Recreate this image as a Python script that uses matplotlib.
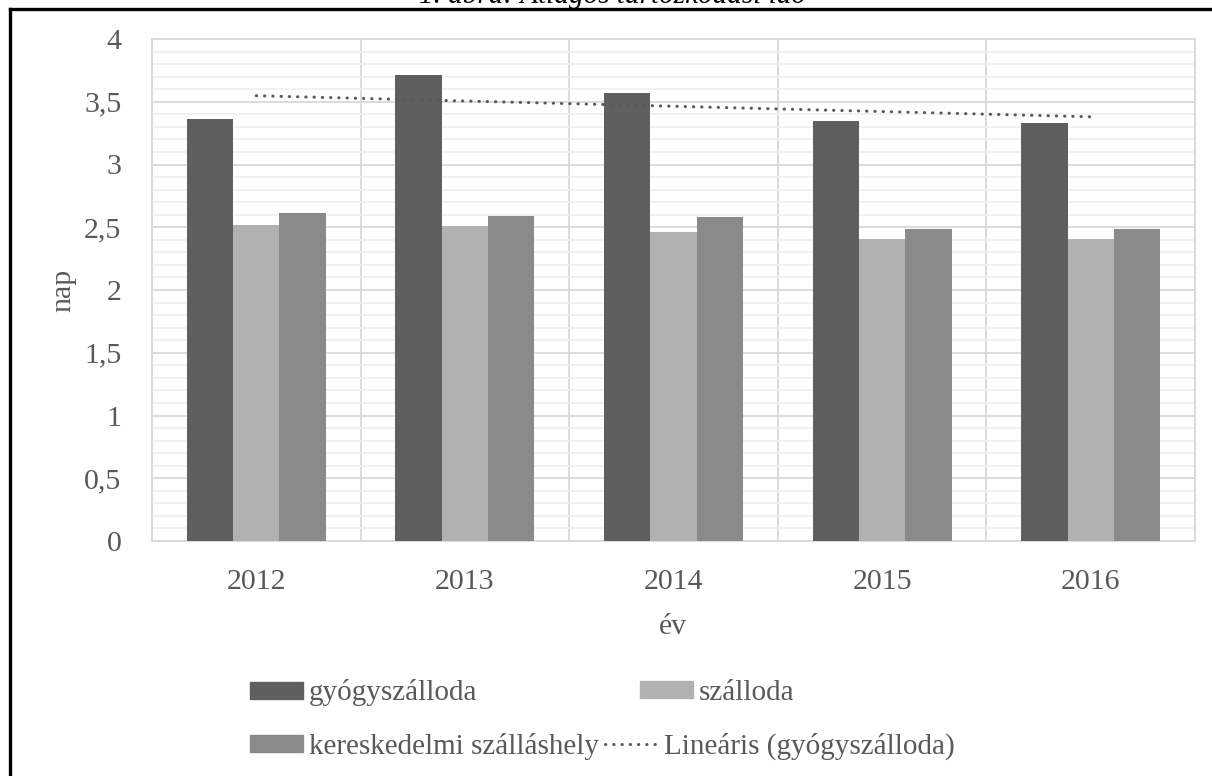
import numpy as np
import matplotlib
matplotlib.use("Agg")
import matplotlib.pyplot as plt
from matplotlib.patches import Patch
from matplotlib.lines import Line2D
from matplotlib.ticker import MultipleLocator, FuncFormatter

years = ["2012", "2013", "2014", "2015", "2016"]
gyogyszalloda = [3.36, 3.71, 3.57, 3.35, 3.33]
szalloda = [2.52, 2.51, 2.46, 2.41, 2.41]
kereskedelmi = [2.61, 2.59, 2.58, 2.49, 2.49]

series_names = ["gyógyszálloda", "szálloda", "kereskedelmi szálláshely"]
trend_name = "Lineáris (gyógyszálloda)"
title = "1. ábra: Átlagos tartózkodási idő"

plt.rcParams['font.family'] = ['Liberation Serif', 'DejaVu Serif']
txt = '#595959'
cols = ['#5f5f5f', '#b1b1b1', '#8a8a8a']

W, H = 1212, 776
fig = plt.figure(figsize=(W / 100, H / 100), dpi=100)
ax = fig.add_axes([152 / W, 1 - 541 / H, (1195 - 152) / W, (541 - 39) / H])

x = np.arange(len(years))
bw = 0.222
for i, (vals, c) in enumerate(zip([gyogyszalloda, szalloda, kereskedelmi], cols)):
    ax.bar(x + (i - 1) * bw, vals, width=bw, color=c, zorder=3, linewidth=0)

# excel style linear trendline
k, b = np.polyfit(x, gyogyszalloda, 1)
ax.plot(x, k * x + b, color='#595959', lw=2.2, linestyle=(0, (0.1, 2.6)),
        dash_capstyle='round', zorder=4)

ax.set_xlim(-0.5, len(years) - 0.5)
ax.set_ylim(0, 4)
ax.yaxis.set_major_locator(MultipleLocator(0.5))
ax.yaxis.set_minor_locator(MultipleLocator(0.1))
ax.yaxis.set_major_formatter(FuncFormatter(lambda v, p: f"{v:g}".replace('.', ',')))
ax.set_xticks(x)
ax.set_xticklabels(years)
ax.set_xticks(np.arange(-0.5, len(years), 1), minor=True)
ax.grid(which='minor', axis='y', color='#f0f0f0', lw=1.3, zorder=0)
ax.grid(which='major', axis='y', color='#d9d9d9', lw=1.3, zorder=1)
ax.grid(which='minor', axis='x', color='#d9d9d9', lw=1.3, zorder=1)
ax.tick_params(which='both', length=0, labelsize=21.5, colors=txt)
ax.tick_params(axis='x', pad=20)
ax.tick_params(axis='y', pad=22)
for s in ax.spines.values():
    s.set_color('#d9d9d9')
    s.set_linewidth(1.3)

fig.text(673 / W, 1 - 627 / H, "év", ha='center', va='center', fontsize=21.5, color=txt)
fig.text(63 / W, 1 - 290 / H, "nap", ha='center', va='center', rotation=90,
         fontsize=21.5, color=txt)

# legend entries placed like the excel legend
entries = [
    (Patch(color=cols[0]), series_names[0], 250, 693),
    (Patch(color=cols[1]), series_names[1], 640, 693),
    (Patch(color=cols[2]), series_names[2], 250, 746),
    (Line2D([], [], color='#595959', lw=2.2, linestyle=(0, (0.1, 2.6)),
            dash_capstyle='round'), trend_name, 605, 746),
]
for h, lab, lx, ly in entries:
    lg = fig.legend(handles=[h], labels=[lab], loc='center left',
                    bbox_to_anchor=(lx / W, 1 - ly / H), frameon=False,
                    borderpad=0, borderaxespad=0, fontsize=21, handlelength=1.83,
                    handleheight=0.52, handletextpad=0.2, labelcolor=txt)

# outer frame (top and left) and cut off caption
fig.add_artist(Line2D([10 / W, 1], [1 - 9 / H, 1 - 9 / H], color='black', lw=2.4,
                      transform=fig.transFigure))
fig.add_artist(Line2D([10 / W, 10 / W], [0, 1 - 9 / H], color='black', lw=2.4,
                      transform=fig.transFigure))
fig.text(0.505, 1 - 3 / H, title, ha='center', va='baseline', fontsize=21,
         style='italic', color='black')

fig.savefig("out.png", dpi=100)
